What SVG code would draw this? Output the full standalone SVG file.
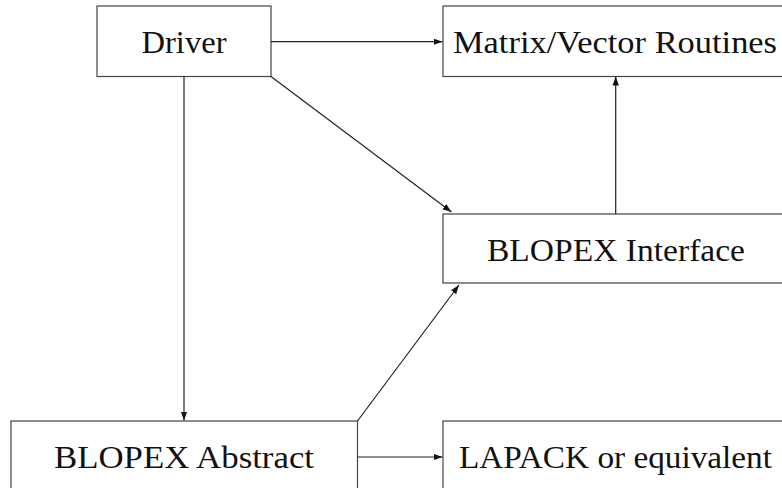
<svg xmlns="http://www.w3.org/2000/svg" width="782" height="488" viewBox="0 0 782 488">
<style>
.box{fill:#fff;stroke:#444;stroke-width:1.2}
.lbl{font-family:"Liberation Serif","Times New Roman",serif;font-size:32px;fill:#111;text-anchor:middle}
.edge{fill:none;stroke:#222;stroke-width:1.2;marker-end:url(#ah)}
</style>
<defs>
<marker id="ah" markerWidth="10" markerHeight="8" refX="9" refY="4" orient="auto" markerUnits="userSpaceOnUse">
<path d="M0,0.8 L9,4 L0,7.2 Z" fill="#111"/>
</marker>
</defs>
<rect width="782" height="488" fill="#fff"/>
<g id="driver"><rect class="box" x="97" y="6" width="174" height="70.5"/><text class="lbl" x="184" y="53" textLength="85" lengthAdjust="spacingAndGlyphs">Driver</text></g>
<g id="matrix"><rect class="box" x="443" y="6" width="346" height="70.5"/><text class="lbl" x="615" y="53" textLength="324" lengthAdjust="spacingAndGlyphs">Matrix/Vector Routines</text></g>
<g id="interface"><rect class="box" x="443" y="214" width="346" height="69"/><text class="lbl" x="616" y="261" textLength="258" lengthAdjust="spacingAndGlyphs">BLOPEX Interface</text></g>
<g id="abstract"><rect class="box" x="11" y="421" width="346.5" height="72"/><text class="lbl" x="184" y="468" textLength="260" lengthAdjust="spacingAndGlyphs">BLOPEX Abstract</text></g>
<g id="lapack"><rect class="box" x="443" y="421" width="346" height="72"/><text class="lbl" x="615.5" y="468" textLength="313" lengthAdjust="spacingAndGlyphs">LAPACK or equivalent</text></g>
<g id="connectors">
<line class="edge" x1="271" y1="41.7" x2="442.5" y2="41.7"/>
<line class="edge" x1="615.7" y1="214" x2="615.7" y2="76.5"/>
<line class="edge" x1="184" y1="76.5" x2="184" y2="420.5"/>
<line class="edge" x1="271" y1="76.5" x2="451.5" y2="212"/>
<line class="edge" x1="357.5" y1="421" x2="459" y2="285"/>
<line class="edge" x1="357.5" y1="457" x2="442.5" y2="457"/>
</g>
</svg>
